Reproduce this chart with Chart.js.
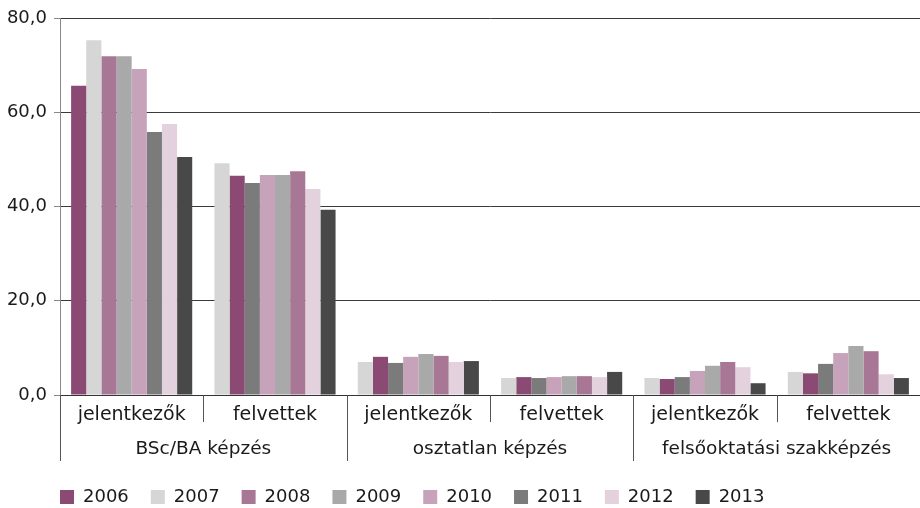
<!DOCTYPE html>
<html>
<head>
<meta charset="utf-8">
<script src="https://cdn.jsdelivr.net/npm/chart.js@4.4.1/dist/chart.umd.min.js"></script>
<style>
  html, body { margin: 0; padding: 0; background: #fff; }
  #wrap { width: 920px; height: 508px; }
</style>
</head>
<body>
<div id="wrap"><canvas id="chart"></canvas></div>
<script>
// kategóriák és csoportok
const categories = ["jelentkezők", "felvettek", "jelentkezők", "felvettek", "jelentkezők", "felvettek"];
const groups = ["BSc/BA képzés", "osztatlan képzés", "felsőoktatási szakképzés"];
const years = ["2006", "2007", "2008", "2009", "2010", "2011", "2012", "2013"];
const yearColors = ["#8b4a73", "#d6d6d6", "#a87795", "#a9a9a9", "#c6a3ba", "#7b7b7b", "#e3d2de", "#484848"];
const yTicks = [0, 20, 40, 60, 80];

// évenkénti értékek, kategóriák sorrendjében
const v2006 = [65.6, 46.5, 8.1, 3.8, 3.4, 4.6];
const v2007 = [75.3, 49.2, 7.0, 3.6, 3.6, 4.9];
const v2008 = [71.9, 47.5, 8.3, 4.0, 7.0, 9.3];
const v2009 = [71.9, 46.7, 8.7, 4.0, 6.2, 10.4];
const v2010 = [69.2, 46.7, 8.1, 3.8, 5.1, 8.9];
const v2011 = [55.8, 45.0, 6.8, 3.6, 3.8, 6.6];
const v2012 = [57.5, 43.7, 7.0, 3.8, 5.9, 4.4];
const v2013 = [50.5, 39.3, 7.2, 4.9, 2.5, 3.6];
const yearValues = [v2006, v2007, v2008, v2009, v2010, v2011, v2012, v2013];

// az oszlopok évsorrendje: az első kategóriában más, mint a többiben
const barOrderFirst = [0, 1, 2, 3, 4, 5, 6, 7];
const barOrderRest = [1, 0, 5, 4, 3, 2, 6, 7];
const orderFor = c => (c === 0 ? barOrderFirst : barOrderRest);

const FONT = "'DejaVu Sans', sans-serif";
const TEXT = "#1a1a1a";

const datasets = barOrderFirst.map((_, pos) => ({
    label: "pos" + pos,
    data: categories.map((_, c) => yearValues[orderFor(c)[pos]][c]),
    backgroundColor: categories.map((_, c) => yearColors[orderFor(c)[pos]]),
    borderWidth: 0,
    categoryPercentage: 0.845,
    barPercentage: 1.0
}));

const groupLabels = {
    id: "groupLabels",
    afterLayout(chart) {
        // jelmagyarázat igazítása a bal tengelyhez
        chart.legend.left = 38;
        chart.legend.top = 466;
    },
    afterDraw(chart) {
        const { ctx } = chart;
        const x = chart.scales.x;
        const bottom = chart.chartArea.bottom;
        const catW = (x.right - x.left) / categories.length;
        ctx.save();
        ctx.strokeStyle = "#555";
        ctx.lineWidth = 1;
        for (let k = 0; k < groups.length; k++) {
            const gx = Math.round(x.left + 2 * k * catW) + 0.5;
            ctx.beginPath(); ctx.moveTo(gx, bottom); ctx.lineTo(gx, 461); ctx.stroke();
            const sx = Math.round(x.left + (2 * k + 1) * catW) + 0.5;
            ctx.beginPath(); ctx.moveTo(sx, bottom); ctx.lineTo(sx, 422); ctx.stroke();
        }
        ctx.fillStyle = TEXT;
        ctx.font = "18.5px " + FONT;
        ctx.textAlign = "center";
        ctx.textBaseline = "middle";
        groups.forEach((g, k) => ctx.fillText(g, x.left + (2 * k + 1) * catW, 449));
        ctx.restore();
    }
};

new Chart(document.getElementById("chart"), {
    type: "bar",
    data: { labels: categories, datasets },
    options: {
        responsive: true,
        maintainAspectRatio: false,
        animation: false,
        layout: { padding: { top: 18, right: 0, left: 0, bottom: 0 } },
        plugins: {
            tooltip: { enabled: false },
            legend: {
                position: "bottom",
                align: "start",
                labels: {
                    font: { family: FONT, size: 18 },
                    color: TEXT,
                    boxWidth: 14,
                    boxHeight: 14,
                    padding: 22,
                    generateLabels: () => years.map((y, i) => ({
                        text: y, fillStyle: yearColors[i], strokeStyle: yearColors[i],
                        lineWidth: 0, hidden: false, datasetIndex: i, fontColor: TEXT
                    }))
                }
            }
        },
        scales: {
            x: {
                grid: { display: true, drawOnChartArea: false, drawTicks: false },
                border: { color: "#333", width: 1 },
                ticks: { font: { family: FONT, size: 19 }, color: TEXT, padding: 9, maxRotation: 0, autoSkip: false },
                afterFit: s => { s.height = 63; }
            },
            y: {
                min: 0, max: 80,
                afterBuildTicks: s => { s.ticks = yTicks.map(v => ({ value: v })); },
                grid: { color: "#3a3a3a", tickColor: "#888", tickLength: 6 },
                border: { color: "#888", width: 1 },
                ticks: {
                    font: { family: FONT, size: 18 }, color: TEXT, padding: 7,
                    callback: v => v.toFixed(1).replace(".", ",")
                },
                afterFit: s => { s.width = 60; }
            }
        }
    },
    plugins: [groupLabels]
});
</script>
</body>
</html>
